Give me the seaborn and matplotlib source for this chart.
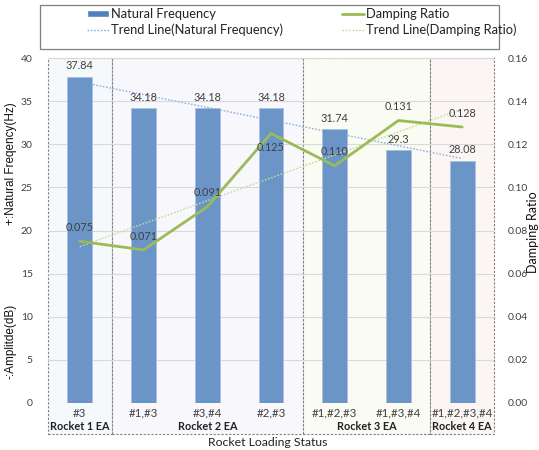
import numpy as np
import pandas as pd
import matplotlib
matplotlib.use("Agg")
import matplotlib.pyplot as plt
from matplotlib.patches import Rectangle
from matplotlib.lines import Line2D
import seaborn as sns

# ---- data ----
categories = ["#3", "#1,#3", "#3,#4", "#2,#3", "#1,#2,#3", "#1,#3,#4", "#1,#2,#3,#4"]
natural_freq = [37.84, 34.18, 34.18, 34.18, 31.74, 29.30, 28.08]
damping_ratio = [0.075, 0.071, 0.091, 0.125, 0.110, 0.131, 0.128]
freq_labels = ["37.84", "34.18", "34.18", "34.18", "31.74", "29.3", "28.08"]
damping_labels = ["0.075", "0.071", "0.091", "0.125", "0.110", "0.131", "0.128"]
group_names = ["Rocket 1 EA", "Rocket 2 EA", "Rocket 3 EA", "Rocket 4 EA"]
group_sizes = [1, 3, 2, 1]
left_ticks = [0, 5, 10, 15, 20, 25, 30, 35, 40]
right_ticks = [0.00, 0.02, 0.04, 0.06, 0.08, 0.10, 0.12, 0.14, 0.16]

BAR = "#6b95c7"
GREEN = "#9bbb59"
TREND_BLUE = "#8fb0dc"
TREND_GREEN = "#c6da9c"
TXT = "#404040"
GRID = "#d9d9d9"
BOX = "#808080"
group_fills = ["#f6f9fc", "#f8f8fc", "#fafbf3", "#fbf6f4"]

sns.set_theme(style="white")
plt.rcParams["font.family"] = ["Lato", "DejaVu Sans"]

W, H = 539, 450
fig = plt.figure(figsize=(W / 100, H / 100), dpi=100)
fig.patch.set_facecolor("white")

ax = fig.add_axes([48 / W, 1 - 403 / H, 446 / W, 345 / H])
ax.set_facecolor("none")

df = pd.DataFrame({"status": categories, "freq": natural_freq,
                   "damping": damping_ratio, "pos": np.arange(len(categories))})

# bars: natural frequency
sns.barplot(data=df, x="status", y="freq", ax=ax, color=BAR, saturation=1,
            width=0.39, edgecolor="#a8c0e0", linewidth=0.6, order=categories)
for cont in ax.containers:
    for p in cont:
        p.set_zorder(2)

# linear trend of natural frequency, drawn behind the bars
sns.regplot(data=df, x="pos", y="freq", ax=ax, scatter=False, ci=None,
            truncate=True,
            line_kws=dict(color=TREND_BLUE, lw=1.0, ls=(0, (1.2, 1.2)), zorder=1))

ax.set_xlim(-0.5, len(categories) - 0.5)
ax.set_ylim(0, 40)
ax.set_yticks(left_ticks)
ax.set_yticklabels([str(t) for t in left_ticks], fontsize=7.5, color=TXT)
ax.set_xticks(np.arange(len(categories)))
ax.set_xticklabels(categories, fontsize=8.3, color=TXT)
ax.tick_params(axis="both", length=0)
ax.tick_params(axis="y", pad=11)
ax.tick_params(axis="x", pad=3.5)
ax.set_xlabel("")
ax.set_ylabel("")
ax.set_axisbelow(True)
ax.yaxis.grid(True, color=GRID, lw=0.8)
ax.xaxis.grid(False)
for s in ax.spines.values():
    s.set_visible(False)

# bar value labels
for i, (v, lab) in enumerate(zip(natural_freq, freq_labels)):
    ax.annotate(lab, (i, v), xytext=(0, 4), textcoords="offset points",
                ha="center", va="bottom", fontsize=7.8, color=TXT, zorder=5)

# shaded, dashed group boxes spanning plot and category labels
trans = ax.get_xaxis_transform()
bottom = -31 / 345
start = -0.5
for name, size, fc in zip(group_names, group_sizes, group_fills):
    end = start + size
    ax.add_patch(Rectangle((start, bottom), size, 1 - bottom, transform=trans,
                           facecolor=fc, edgecolor=BOX, lw=0.8,
                           ls=(0, (2.0, 1.5)), clip_on=False, zorder=0.1))
    ax.text((start + end) / 2, -24 / 345, name, transform=trans, ha="center",
            va="center", fontsize=7.8, fontweight="bold", color="#222222")
    start = end

# damping ratio on the secondary axis
ax2 = ax.twinx()
sns.lineplot(data=df, x="pos", y="damping", ax=ax2, color=GREEN, lw=2.0, zorder=4)
sns.regplot(data=df, x="pos", y="damping", ax=ax2, scatter=False, ci=None,
            truncate=True,
            line_kws=dict(color=TREND_GREEN, lw=1.0, ls=(0, (1.2, 1.2)), zorder=3))
ax2.set_ylim(0, 0.16)
ax2.set_yticks(right_ticks)
ax2.set_yticklabels([f"{t:.2f}" for t in right_ticks], fontsize=7.5, color=TXT)
ax2.tick_params(axis="y", length=0, pad=10)
ax2.set_xlabel("")
ax2.set_ylabel("")
ax2.grid(False)
for s in ax2.spines.values():
    s.set_visible(False)
ax2.set_xlim(-0.5, len(categories) - 0.5)

for i, (v, lab) in enumerate(zip(damping_ratio, damping_labels)):
    below = lab == "0.125"
    ax2.annotate(lab, (i, v), xytext=(0, -6 if below else 6),
                 textcoords="offset points", ha="center",
                 va="top" if below else "bottom", fontsize=7.8, color=TXT, zorder=6)

# axis titles
fig.text(11 / W, 1 - 164 / H, "+:Natural Freqency(Hz)", rotation=90,
         ha="center", va="center", fontsize=8.5, family="Liberation Sans", color="#111111")
fig.text(11 / W, 1 - 341 / H, "-:Amplitde(dB)", rotation=90,
         ha="center", va="center", fontsize=8.5, family="Liberation Sans", color="#111111")
fig.text(533 / W, 1 - 232 / H, "Damping Ratio", rotation=90,
         ha="center", va="center", fontsize=9, color="#111111")
fig.text(268 / W, 1 - 443 / H, "Rocket Loading Status",
         ha="center", va="center", fontsize=8.8, color="#222222")

# legend with framed box above the plot
handles = [
    Rectangle((0, 0), 1, 1, facecolor="#4f81bd"),
    Line2D([], [], color=TREND_BLUE, lw=1.0, ls=(0, (1.2, 1.2))),
    Line2D([], [], color=GREEN, lw=2.0),
    Line2D([], [], color=TREND_GREEN, lw=1.0, ls=(0, (1.2, 1.2))),
]
labels = ["Natural Frequency", "Trend Line(Natural Frequency)",
          "Damping Ratio", "Trend Line(Damping Ratio)"]
fig.legend(handles, labels, ncol=2, loc="upper left",
           bbox_to_anchor=(87 / W, 1 - 8 / H), frameon=False, fontsize=9.3,
           handlelength=1.7, handleheight=0.5, handletextpad=0.15,
           columnspacing=4.6, labelspacing=0.3, borderpad=0, borderaxespad=0,
           labelcolor="#222222")
fig.add_artist(Rectangle((40 / W, 1 - 49 / H), 459 / W, 44 / H,
                         transform=fig.transFigure, fill=False,
                         edgecolor="#7f7f7f", lw=0.9))

fig.savefig("out.png", dpi=100)
